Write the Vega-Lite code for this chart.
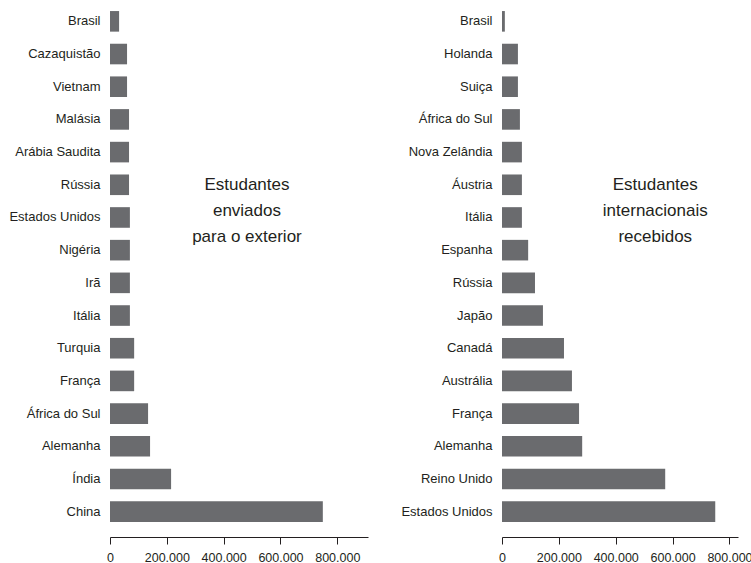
{
  "$schema": "https://vega.github.io/schema/vega-lite/v6.json",
  "background": "white",
  "padding": {"left": 8, "top": 5, "right": 0, "bottom": 0},
  "spacing": 32,
  "config": {
    "view": {"stroke": null},
    "font": "Liberation Sans",
    "axis": {"labelFont": "Liberation Sans", "labelColor": "#231f20", "grid": false, "title": null},
    "text": {"font": "Liberation Sans"}
  },
  "datasets": {
    "enviados": [
      {"pais": "Brasil", "valor": 32000},
      {"pais": "Cazaquistão", "valor": 60000},
      {"pais": "Vietnam", "valor": 60000},
      {"pais": "Malásia", "valor": 67000},
      {"pais": "Arábia Saudita", "valor": 67000},
      {"pais": "Rússia", "valor": 67000, "nota": "Estudantes\nenviados\npara o exterior"},
      {"pais": "Estados Unidos", "valor": 70000},
      {"pais": "Nigéria", "valor": 70000},
      {"pais": "Irã", "valor": 70000},
      {"pais": "Itália", "valor": 70000},
      {"pais": "Turquia", "valor": 85000},
      {"pais": "França", "valor": 85000},
      {"pais": "África do Sul", "valor": 134000},
      {"pais": "Alemanha", "valor": 141000},
      {"pais": "Índia", "valor": 215000},
      {"pais": "China", "valor": 749000}
    ],
    "recebidos": [
      {"pais": "Brasil", "valor": 10000},
      {"pais": "Holanda", "valor": 56000},
      {"pais": "Suiça", "valor": 56000},
      {"pais": "África do Sul", "valor": 63000},
      {"pais": "Nova Zelândia", "valor": 70000},
      {"pais": "Áustria", "valor": 70000, "nota": "Estudantes\ninternacionais\nrecebidos"},
      {"pais": "Itália", "valor": 70000},
      {"pais": "Espanha", "valor": 92000},
      {"pais": "Rússia", "valor": 116000},
      {"pais": "Japão", "valor": 144000},
      {"pais": "Canadá", "valor": 218000},
      {"pais": "Austrália", "valor": 246000},
      {"pais": "França", "valor": 271000},
      {"pais": "Alemanha", "valor": 282000},
      {"pais": "Reino Unido", "valor": 574000},
      {"pais": "Estados Unidos", "valor": 750000}
    ]
  },
  "hconcat": [
    {
      "width": 258,
      "height": 523,
      "data": {"name": "enviados"},
      "encoding": {
        "y": {
          "field": "pais", "type": "nominal", "sort": null,
          "scale": {"paddingInner": 0.37, "paddingOuter": 0.185},
          "axis": {"domain": false, "ticks": false, "labelPadding": 10, "labelFontSize": 13, "labelLimit": 200}
        }
      },
      "layer": [
        {
          "mark": {"type": "bar", "color": "#6a6b6e"},
          "encoding": {
            "x": {
              "field": "valor", "type": "quantitative",
              "scale": {"domain": [0, 908000], "nice": false},
              "axis": {"values": [0, 200000, 400000, 600000, 800000], "format": ",.0f", "labelExpr": "replace(datum.label, /,/g, '.')", "domainColor": "#231f20", "tickColor": "#231f20", "tickSize": 7, "labelPadding": 7, "labelFontSize": 12.5, "offset": 9, "labelFlush": false}
            }
          }
        },
        {
          "transform": [{"filter": "datum.nota != null"}],
          "mark": {"type": "text", "fontSize": 17, "lineBreak": "\n", "lineHeight": 26, "align": "center", "baseline": "middle", "color": "#231f20"},
          "encoding": {
            "x": {"datum": 482000, "type": "quantitative"},
            "text": {"field": "nota"}
          }
        }
      ]
    },
    {
      "width": 236,
      "height": 523,
      "data": {"name": "recebidos"},
      "encoding": {
        "y": {
          "field": "pais", "type": "nominal", "sort": null,
          "scale": {"paddingInner": 0.37, "paddingOuter": 0.185},
          "axis": {"domain": false, "ticks": false, "labelPadding": 10, "labelFontSize": 13, "labelLimit": 200}
        }
      },
      "layer": [
        {
          "mark": {"type": "bar", "color": "#6a6b6e"},
          "encoding": {
            "x": {
              "field": "valor", "type": "quantitative",
              "scale": {"domain": [0, 830000], "nice": false},
              "axis": {"values": [0, 200000, 400000, 600000, 800000], "format": ",.0f", "labelExpr": "replace(datum.label, /,/g, '.')", "domainColor": "#231f20", "tickColor": "#231f20", "tickSize": 7, "labelPadding": 7, "labelFontSize": 12.5, "offset": 9, "labelFlush": false}
            }
          }
        },
        {
          "transform": [{"filter": "datum.nota != null"}],
          "mark": {"type": "text", "fontSize": 17, "lineBreak": "\n", "lineHeight": 26, "align": "center", "baseline": "middle", "color": "#231f20"},
          "encoding": {
            "x": {"datum": 539000, "type": "quantitative"},
            "text": {"field": "nota"}
          }
        }
      ]
    }
  ]
}
